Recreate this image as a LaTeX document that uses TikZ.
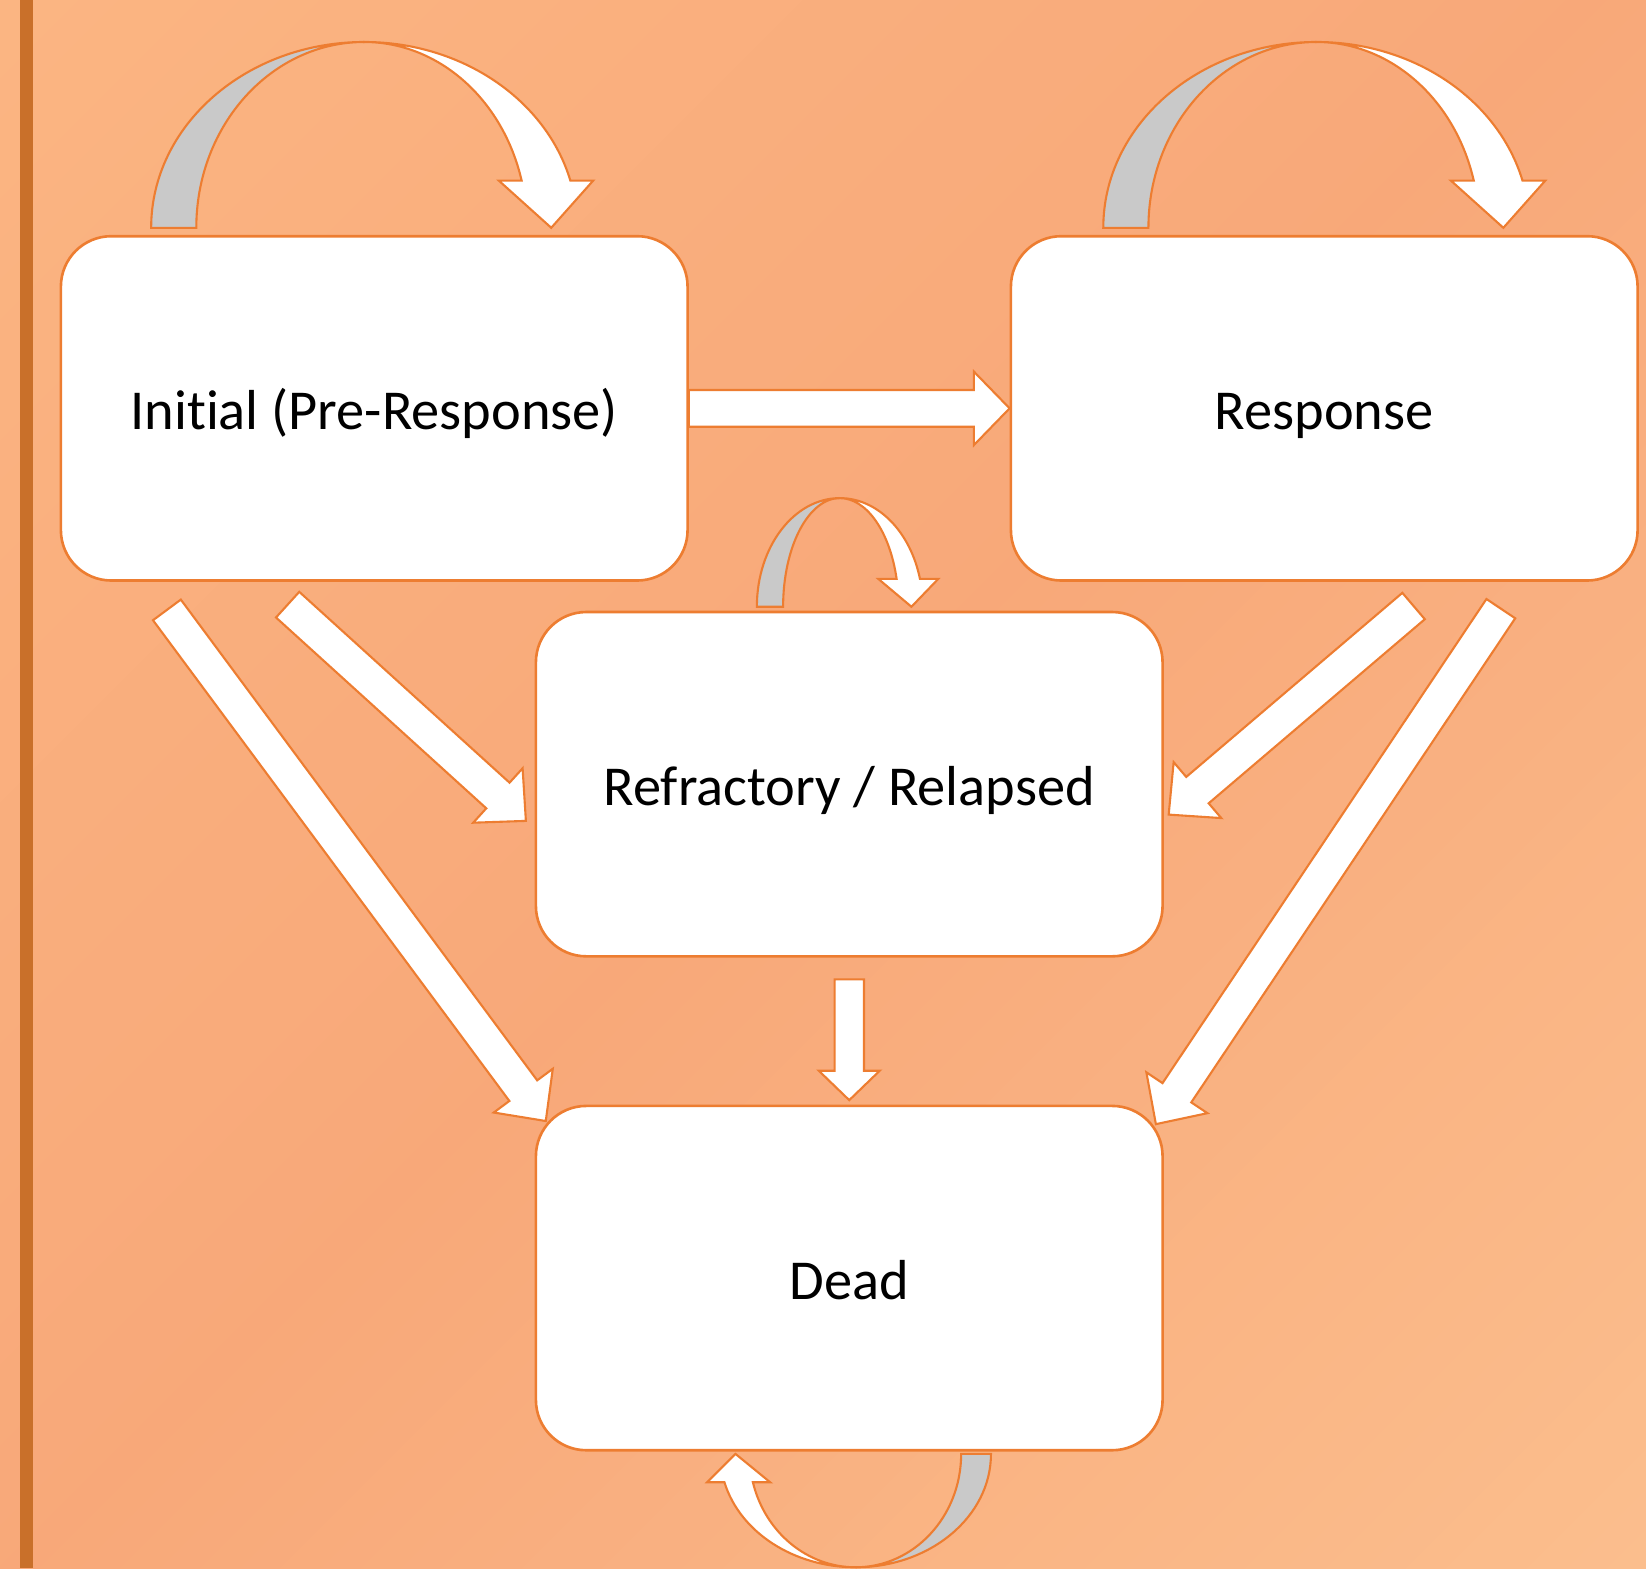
\documentclass[tikz,border=0pt]{standalone}
\usepackage{fontspec}
\setmainfont[Ligatures=NoCommon]{Carlito}
\usetikzlibrary{calc}
\definecolor{ln}{HTML}{ED7D31}
\definecolor{bgL}{HTML}{FBB582}
\definecolor{bgD}{HTML}{F8A879}
\definecolor{bgR}{HTML}{FBBE8D}
\definecolor{barc}{HTML}{C9702A}
\definecolor{grayb}{HTML}{C9C9C9}
\tikzset{
  state/.style={draw=ln, line width=2.5pt, fill=white, rounded corners=48pt,
    minimum width=597pt, minimum height=328pt, inner sep=0pt,
    text height=42pt, text depth=2pt,
    font=\fontsize{53.7}{62}\selectfont},
  barrow/.style={draw=ln, line width=2pt, fill=white, line join=miter},
  backband/.style={draw=ln, line width=2pt, fill=grayb},
  frontband/.style={draw=ln, line width=2pt, fill=white, line join=miter},
  pics/uturn/.style n args={7}{code={%
    \pgfmathsetmacro\ut{asin(#5/#2)}%
    \pgfmathsetmacro\uc{cos(\ut)}%
    \pgfmathsetmacro\uo{#1*\uc}%
    \pgfmathsetmacro\ui{#4*\uc}%
    \pgfmathsetmacro\um{(\uo+\ui)/2}%
    \pgfmathsetmacro\ur{\um+#6}%
    \pgfmathsetmacro\ul{\um-#6}%
    \pgfmathsetmacro\utip{\um+#7}%
    \draw[backband] (-#1pt,0pt) arc[start angle=180,end angle=90,x radius=#1pt,y radius=#2pt]
      arc[start angle=90,end angle=180,x radius=#3pt,y radius=#2pt] -- cycle;
    \draw[frontband] (0pt,#2pt) arc[start angle=90,end angle=\ut,x radius=#1pt,y radius=#2pt]
      -- (\ur pt,#5pt) -- (\utip pt,0pt) -- (\ul pt,#5pt) -- (\ui pt,#5pt)
      arc[start angle=\ut,end angle=90,x radius=#4pt,y radius=#2pt] -- cycle;
  }}
}
\newcommand\blockarr[5]{%
  \path let \p1=(#1), \p2=(#2) in \pgfextra{%
    \pgfmathsetmacro\baang{atan2(\y2-\y1,\x2-\x1)}%
    \pgfmathsetmacro\balen{veclen(\x2-\x1,\y2-\y1)}%
    \pgfmathsetmacro\babb{\balen-#5}%
    \xdef\baang{\baang}\xdef\balen{\balen}\xdef\babb{\babb}};
  \draw[barrow, shift={(#1)}, rotate=\baang]
    (0pt,{#3pt/2}) -- (\babb pt,{#3pt/2}) -- (\babb pt,{#4pt/2}) -- (\balen pt,0pt)
    -- (\babb pt,{-#4pt/2}) -- (\babb pt,{-#3pt/2}) -- (0pt,{-#3pt/2}) -- cycle;
}
\begin{document}
\begin{tikzpicture}[x=1pt,y=-1pt]
\useasboundingbox (0,0) rectangle (1568,1494);
\clip (0,0) rectangle (1568,1494);
% diagonal background gradient
\foreach \k in {0,...,79}{
  \pgfmathsetmacro\ua{\k*38.3-1}
  \pgfmathsetmacro\ub{(\k+1)*38.3+1}
  \pgfmathtruncatemacro\pc{\k<40 ? (200*(\k+0.5)/80) : (200*(79.5-\k)/80)}
  \ifnum\k<40 \colorlet{stc}{bgD!\pc!bgL}\else\colorlet{stc}{bgD!\pc!bgR}\fi
  \fill[stc] (\ua,0) -- (\ub,0) -- (\ub-1600,1600) -- (\ua-1600,1600) -- cycle;
}
\fill[barc] (19,0) rectangle (31,1494);

% states
\node[state] (ini) at (356.5,389) {Initial (Pre-Response)};
\node[state] (res) at (1261.5,389) {Response};
\node[state] (ref) at (809,747) {Refractory / Relapsed};
\node[state] (dead) at (809,1217.5) {Dead};

% self loops
\pic (lini) at (347,217) {uturn={203}{177}{160}{155}{45}{45}{5}};
\pic (lres) at (1254,217) {uturn={203}{177}{160}{155}{45}{45}{5}};
\pic (lref) at (800,578) {uturn={79}{103.5}{54}{56}{26.5}{28.5}{3}};
\pic[rotate=180] (ldead) at (815,1385) {uturn={129}{108}{100.6}{101}{27}{30}{3}};

% connector end points
\coordinate (aT) at (159,581);   \coordinate (aH) at (520,1068);
\coordinate (bT) at (274,576);   \coordinate (bH) at (501,782);
\coordinate (cT) at (1346.6,577.3); \coordinate (cH) at (1113.3,776);
\coordinate (dT) at (1429.7,579.8); \coordinate (dH) at (1101,1071);
\coordinate (eT) at (809,933);   \coordinate (eH) at (809,1048);

\blockarr{ini.east}{res.west}{35}{70}{34}
\blockarr{aT}{aH}{33}{70}{36}
\blockarr{bT}{bH}{33}{70}{36}
\blockarr{cT}{cH}{33}{70}{36}
\blockarr{dT}{dH}{33}{70}{36}
\blockarr{eT}{eH}{28}{58}{28}
\end{tikzpicture}
\end{document}
